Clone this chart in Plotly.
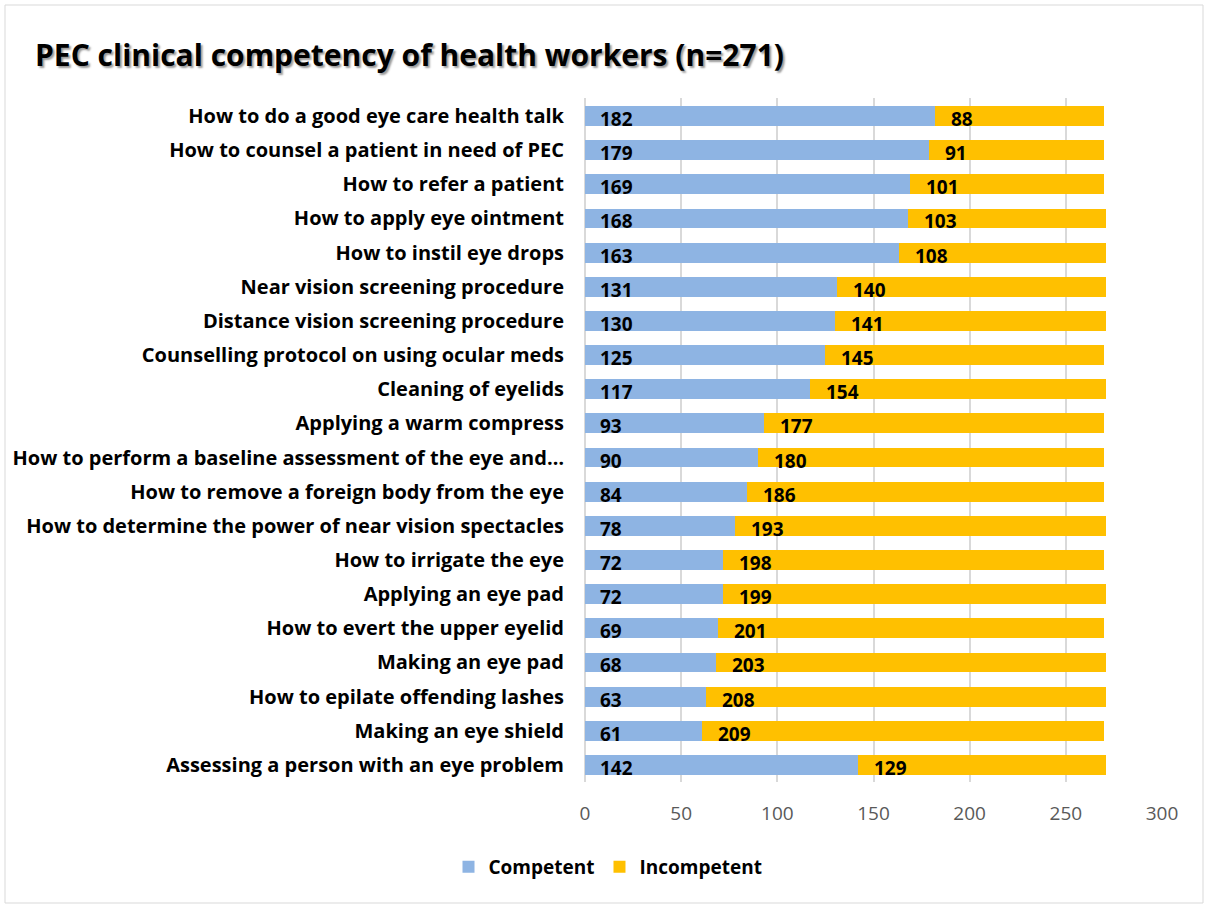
import plotly.graph_objects as go

categories = [
    "How to do a good eye care health talk",
    "How to counsel a patient in need of PEC",
    "How to refer a patient",
    "How to apply eye ointment",
    "How to instil eye drops",
    "Near vision screening procedure",
    "Distance vision screening procedure",
    "Counselling protocol on using ocular meds",
    "Cleaning of eyelids",
    "Applying a warm compress",
    "How to perform a baseline assessment of the eye and…",
    "How to remove a foreign body from the eye",
    "How to determine the power of near vision spectacles",
    "How to irrigate the eye",
    "Applying an eye pad",
    "How to evert the upper eyelid",
    "Making an eye pad",
    "How to epilate offending lashes",
    "Making an eye shield",
    "Assessing a person with an eye problem",
]
competent = [182, 179, 169, 168, 163, 131, 130, 125, 117, 93, 90, 84, 78, 72, 72, 69, 68, 63, 61, 142]
incompetent = [88, 91, 101, 103, 108, 140, 141, 145, 154, 177, 180, 186, 193, 198, 199, 201, 203, 208, 209, 129]

FONT = "Open Sans"

fig = go.Figure()
fig.add_trace(go.Bar(
    y=categories, x=competent, orientation="h", name="Competent",
    marker=dict(color="#8EB4E3", line=dict(width=0)),
))
fig.add_trace(go.Bar(
    y=categories, x=incompetent, orientation="h", name="Incompetent",
    marker=dict(color="#FFC000", line=dict(width=0)),
))

annotations = []
for cat, c, i in zip(categories, competent, incompetent):
    annotations.append(dict(x=0, y=cat, text=str(c), showarrow=False, xanchor="left",
                            xshift=13, yshift=-3,
                            font=dict(family=FONT, size=19, color="black", weight="bold")))
    annotations.append(dict(x=c, y=cat, text=str(i), showarrow=False, xanchor="left",
                            xshift=14, yshift=-3,
                            font=dict(family=FONT, size=19, color="black", weight="bold")))

fig.update_layout(
    barmode="stack",
    bargap=0.42,
    width=1209, height=906,
    margin=dict(l=585, r=47, t=98, b=124),
    paper_bgcolor="white", plot_bgcolor="white",
    title=dict(text="PEC clinical competency of health workers (n=271)",
               x=35/1209, xanchor="left", y=1-55/906, yanchor="middle",
               xref="container", yref="container",
               font=dict(family=FONT, size=30, color="black", weight="bold",
                         shadow="2px 2px 2px #9a9a9a")),
    xaxis=dict(range=[0, 300], dtick=50, showgrid=True, gridcolor="#D9D9D9", gridwidth=2,
               zeroline=True, zerolinecolor="#D9D9D9", zerolinewidth=2,
               tickfont=dict(family=FONT, size=19, color="#595959"), ticks="",
               ticklabelstandoff=18),
    yaxis=dict(autorange="reversed", tickfont=dict(family=FONT, size=20, color="black", weight="bold"),
               ticks="", ticklabelstandoff=20),
    legend=dict(orientation="h", x=608/1209, xanchor="center", y=1-867/906, yanchor="middle",
                xref="container", yref="container", traceorder="normal",
                font=dict(family=FONT, size=19, color="black", weight="bold"),
                itemwidth=30),
    annotations=annotations,
    shapes=[dict(type="rect", xref="paper", yref="paper",
                 x0=(5-585)/577, x1=(1203-585)/577,
                 y0=(782-903)/684, y1=(782-5)/684,
                 line=dict(color="#D9D9D9", width=1))],
)

fig.write_html("out.html")
